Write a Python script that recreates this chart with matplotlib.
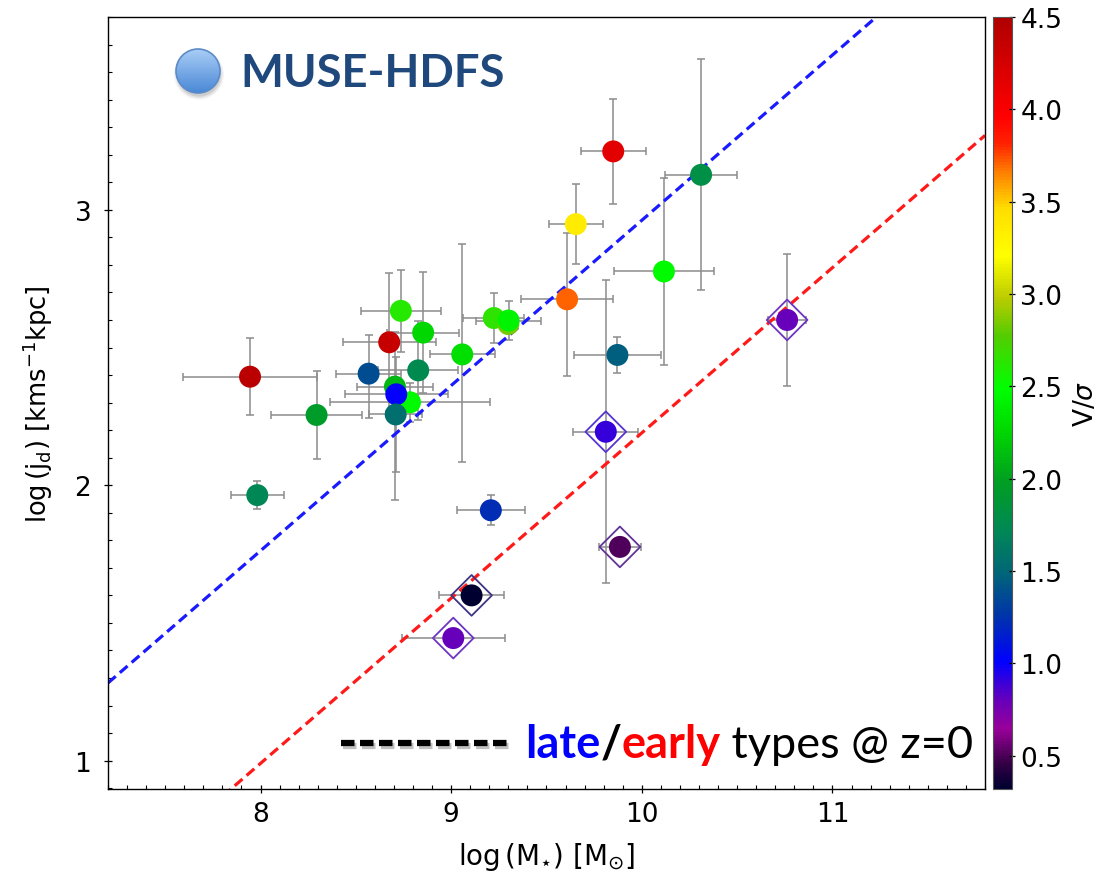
import numpy as np
import matplotlib
matplotlib.use("Agg")
import matplotlib.pyplot as plt
from matplotlib.colors import LinearSegmentedColormap, Normalize, to_rgb
from matplotlib.cm import ScalarMappable
from matplotlib.patches import Circle
from matplotlib.ticker import MultipleLocator, FormatStrFormatter
import matplotlib.patheffects as pe

# galaxies
log_mass = [7.945, 7.983, 8.294, 8.567, 8.675, 8.736, 8.705, 8.784, 8.712, 8.709,
            8.853, 8.827, 9.058, 9.224, 9.300, 9.301, 9.208, 9.107, 9.011, 9.608,
            9.654, 9.850, 9.872, 9.811, 9.885, 10.116, 10.311, 10.762]
log_j = [2.394, 1.964, 2.255, 2.405, 2.519, 2.633, 2.358, 2.301, 2.330, 2.257,
         2.554, 2.417, 2.475, 2.607, 2.585, 2.598, 1.909, 1.600, 1.445, 2.675,
         2.948, 3.212, 2.473, 2.194, 1.776, 2.776, 3.127, 2.600]
mass_err = [0.35, 0.14, 0.24, 0.17, 0.245, 0.21, 0.20, 0.42, 0.27, 0.14,
            0.19, 0.21, 0.17, 0.16, 0.0, 0.17, 0.18, 0.17, 0.27, 0.24,
            0.14, 0.17, 0.23, 0.17, 0.11, 0.26, 0.19, 0.10]
j_err_lo = [0.14, 0.05, 0.16, 0.16, 0.25, 0.15, 0.41, 0.07, 0.03, 0.21,
            0.22, 0.18, 0.39, 0.09, 0.0, 0.07, 0.055, 0.03, 0.0, 0.28,
            0.145, 0.19, 0.065, 0.55, 0.02, 0.34, 0.42, 0.24]
j_err_hi = [0.14, 0.05, 0.16, 0.14, 0.25, 0.15, 0.20, 0.07, 0.03, 0.21,
            0.22, 0.18, 0.40, 0.09, 0.0, 0.07, 0.055, 0.03, 0.0, 0.24,
            0.145, 0.19, 0.065, 0.55, 0.02, 0.34, 0.42, 0.24]
v_sigma = [4.42, 1.72, 1.95, 1.38, 4.35, 2.62, 2.10, 2.47, 1.00, 1.55,
           2.25, 1.75, 2.30, 2.65, 2.85, 2.42, 1.22, 0.33, 0.80, 3.70,
           3.35, 4.15, 1.45, 0.90, 0.50, 2.47, 1.80, 0.80]
boxed = [False, False, False, False, False, False, False, False, False, False,
         False, False, False, False, False, False, False, True, True, False,
         False, False, False, True, True, False, False, True]

# z=0 relations: log j = slope * (log M - 11) + zero point
slope = 0.6
late_zp = 3.562
early_zp = 2.79

cb_ticks = [0.5, 1.0, 1.5, 2.0, 2.5, 3.0, 3.5, 4.0, 4.5]

vmin, vmax = 0.32, 4.5
anchors = [(0.32, '#000030'), (0.45, '#330044'), (0.64, '#990099'), (0.8, '#6600bb'),
           (1.0, '#0000ff'), (1.25, '#0033aa'), (1.49, '#006677'), (1.72, '#008855'),
           (1.99, '#00a020'), (2.26, '#00d800'), (2.49, '#00ff00'), (2.78, '#55cc00'),
           (2.98, '#bbcc00'), (3.21, '#ffff00'), (3.47, '#ffdd00'), (3.68, '#ff7700'),
           (3.82, '#ff2200'), (3.97, '#ff0000'), (4.5, '#b00000')]
cmap = LinearSegmentedColormap.from_list(
    'vs', [((v - vmin) / (vmax - vmin), c) for v, c in anchors])
norm = Normalize(vmin, vmax)

W, H = 1114, 878
fig = plt.figure(figsize=(W / 100, H / 100), dpi=100)
ax = fig.add_axes([108 / W, 88 / H, 877 / W, 772 / H])
cax = fig.add_axes([993 / W, 88 / H, 19 / W, 772 / H])

ax.errorbar(log_mass, log_j, xerr=mass_err, yerr=[j_err_lo, j_err_hi],
            fmt='none', ecolor='#8c8c8c', elinewidth=1.1, capsize=3, capthick=1.1, zorder=1)

xl = np.array([7.2, 11.8])
ax.plot(xl, slope * (xl - 11) + late_zp, color='#1a1aff', lw=2.3,
        linestyle=(0, (3.2, 1.7)), zorder=2)
ax.plot(xl, slope * (xl - 11) + early_zp, color='#ff1a1a', lw=2.3,
        linestyle=(0, (3.2, 1.7)), zorder=2)

ax.scatter(log_mass, log_j, c=v_sigma, cmap=cmap, norm=norm, s=250, linewidths=0, zorder=3)

bx = [m for m, b in zip(log_mass, boxed) if b]
by = [j for j, b in zip(log_j, boxed) if b]
bc = [0.45 * np.array(to_rgb(cmap(norm(v)))) + 0.55 * np.array(to_rgb('#7060c8'))
      for v, b in zip(v_sigma, boxed) if b]
ax.scatter(bx, by, marker='D', s=430, facecolors='none', edgecolors=bc, linewidths=1.3, zorder=3.5)

ax.set_xlim(7.2, 11.8)
ax.set_ylim(0.897, 3.70)
ax.xaxis.set_major_locator(MultipleLocator(1))
ax.xaxis.set_minor_locator(MultipleLocator(0.1))
ax.yaxis.set_major_locator(MultipleLocator(1))
ax.yaxis.set_minor_locator(MultipleLocator(0.1))
ax.tick_params(which='major', direction='inout', length=6, width=0.9, labelsize=19, pad=6)
ax.tick_params(which='minor', direction='in', length=3, width=0.8)
ax.tick_params(axis='y', which='major', pad=9)
for s in ax.spines.values():
    s.set_linewidth(1.0)

ax.set_xlabel(r'log$\,$(M$_{\star}$) [M$_{\odot}$]', fontsize=20, labelpad=9)
ax.set_ylabel(r'log$\,$(j$_{\rm d}$) [kms$^{-1}$kpc]', fontsize=18.5, labelpad=14)

cb = fig.colorbar(ScalarMappable(norm=norm, cmap=cmap), cax=cax, ticks=cb_ticks)
cb.ax.yaxis.set_major_formatter(FormatStrFormatter('%.1f'))
cb.ax.tick_params(direction='inout', length=4, width=0.9, labelsize=19, pad=4)
cb.outline.set_linewidth(0.8)
cb.outline.set_edgecolor('#555555')
cb.set_label(r'V/$\sigma$', fontsize=19, labelpad=8)

# MUSE-HDFS badge
bad = fig.add_axes([168 / W, (H - 102) / H, 60 / W, 60 / H])
bad.set_xlim(-1.5, 1.5)
bad.set_ylim(-1.5, 1.5)
bad.axis('off')
for k, a in zip([1.25, 1.18, 1.1], [0.06, 0.1, 0.15]):
    bad.add_patch(Circle((0.05, -0.18), k, color='#555555', alpha=a, lw=0))
grad = LinearSegmentedColormap.from_list('g', ['#4a88d6', '#a9cdf6'])
im = bad.imshow(np.linspace(0, 1, 100).reshape(-1, 1), cmap=grad, origin='lower',
                extent=(-1.1, 1.1, -1.1, 1.1), aspect='auto', zorder=2)
circ = Circle((0, 0), 1.1, transform=bad.transData, facecolor='none')
bad.add_patch(circ)
im.set_clip_path(circ)
bad.add_patch(Circle((0, 0), 1.1, facecolor='none', edgecolor='#5b8bc8', lw=1.2, zorder=3))

fig.text(240 / W, 1 - 87 / H, 'MUSE-HDFS', fontsize=32.7, fontweight='bold',
         family='Lato', color='#1f497d', va='baseline', ha='left')

# late/early caption
fig.add_artist(plt.Line2D([341 / W, 507 / W], [1 - 744 / H, 1 - 744 / H],
                          transform=fig.transFigure, color='black', lw=4.5,
                          linestyle=(0, (2.16, 0.88)),
                          path_effects=[pe.SimpleLineShadow(offset=(1.5, -2.5), alpha=0.25),
                                        pe.Normal()]))
t = fig.text(525 / W, 1 - 758 / H, 'late', fontsize=32.5, fontweight='bold',
             family='Lato', color='#0000ff', va='baseline', ha='left')
for s, c, w in [('/', 'black', 'bold'), ('early', '#ff0000', 'bold'),
                (' types @ z=0', 'black', 'normal')]:
    t = ax.annotate(s, xy=(1, 0), xycoords=t, va='bottom', ha='left',
                    fontsize=32.5, fontweight=w, family='Lato', color=c)

fig.savefig('out.png', dpi=100)
